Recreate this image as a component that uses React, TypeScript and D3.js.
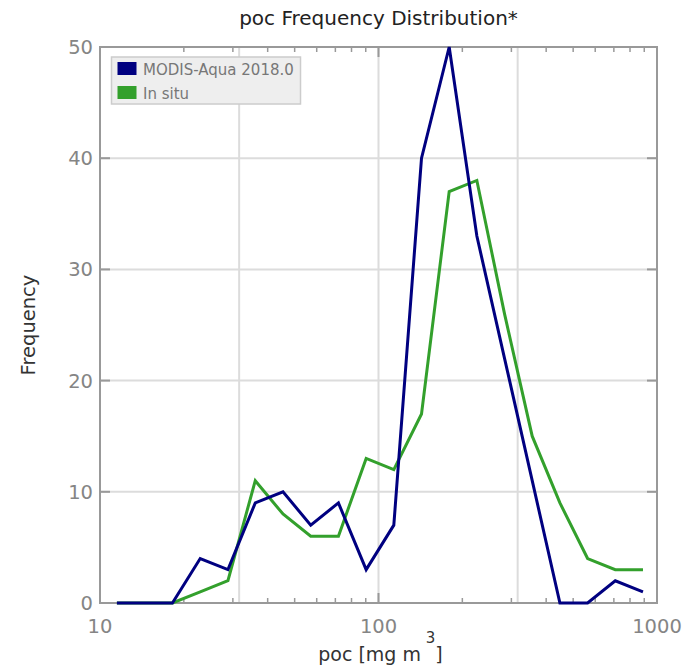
import React from "react";
import * as d3 from "d3";

const binCenters = [11.5, 14.5, 18.2, 22.9, 28.8, 36.1, 45.4, 57.1, 71.8, 90.3, 113.5, 142.7, 179.4, 225.5, 283.5, 356.4, 448.1, 563.4, 708.3, 890.5];
const modisValues = [0, 0, 0, 4, 3, 9, 10, 7, 9, 3, 7, 40, 50, 33, 22, 11, 0, 0, 2, 1];
const insituValues = [0, 0, 0, 1, 2, 11, 8, 6, 6, 13, 12, 17, 37, 38, 26, 15, 9, 4, 3, 3];
const seriesNames = ["MODIS-Aqua 2018.0", "In situ"];
const xMajorTicks = [10, 100, 1000];
const xMinorTicks = [20, 30, 40, 50, 60, 70, 80, 90, 200, 300, 400, 500, 600, 700, 800, 900];
const xGridValues = [31.6, 100, 316];
const yTicks = [0, 10, 20, 30, 40, 50];

const W = 686, H = 666;
const L = 100, R = 657, T = 47, B = 603;
const FONT = "DejaVu Sans, sans-serif";
const NAVY = "#000080";
const GREEN = "#33a02c";
const SPINE = "#999999";
const TICKLBL = "#858585";

export default function App() {
  const x = d3.scaleLog().domain([10, 1000]).range([L, R]);
  const y = d3.scaleLinear().domain([0, 50]).range([B, T]);
  const line = d3.line<number>().x((_, i) => x(binCenters[i])).y((d) => y(d));
  const colors = [NAVY, GREEN];

  return (
    <svg width={W} height={H} style={{ position: "absolute", left: 0, top: 0, background: "#fff" }} fontFamily={FONT}>
      {/* gridlines */}
      {yTicks.filter((t) => t > 0 && t < 50).map((t) => (
        <line key={"gy" + t} x1={L} x2={R} y1={y(t)} y2={y(t)} stroke="#dcdcdc" strokeWidth={2} />
      ))}
      {xGridValues.map((v) => (
        <line key={"gx" + v} x1={x(v)} x2={x(v)} y1={T} y2={B} stroke="#dcdcdc" strokeWidth={2} />
      ))}
      {/* ticks */}
      {yTicks.map((t) => (
        <g key={"ty" + t}>
          <line x1={L} x2={L + 10} y1={y(t)} y2={y(t)} stroke={SPINE} strokeWidth={2} />
          <line x1={R} x2={R - 10} y1={y(t)} y2={y(t)} stroke={SPINE} strokeWidth={2} />
          <text x={L - 7} y={y(t)} dy="0.36em" textAnchor="end" fontSize={19.5} fill={TICKLBL}>{t}</text>
        </g>
      ))}
      {xMajorTicks.map((t) => (
        <g key={"tx" + t}>
          <line x1={x(t)} x2={x(t)} y1={B} y2={B - 10} stroke={SPINE} strokeWidth={2} />
          <line x1={x(t)} x2={x(t)} y1={T} y2={T + 10} stroke={SPINE} strokeWidth={2} />
          <text x={x(t)} y={B + 30} textAnchor="middle" fontSize={19.5} fill={TICKLBL}>{t}</text>
        </g>
      ))}
      {xMinorTicks.map((t) => (
        <g key={"mx" + t}>
          <line x1={x(t)} x2={x(t)} y1={B} y2={B - 5} stroke={SPINE} strokeWidth={1.5} />
          <line x1={x(t)} x2={x(t)} y1={T} y2={T + 5} stroke={SPINE} strokeWidth={1.5} />
        </g>
      ))}
      {/* spines */}
      <rect x={L} y={T} width={R - L} height={B - T} fill="none" stroke={SPINE} strokeWidth={2} />
      {/* lines */}
      <path d={line(insituValues) || ""} fill="none" stroke={GREEN} strokeWidth={3} strokeLinejoin="miter" />
      <path d={line(modisValues) || ""} fill="none" stroke={NAVY} strokeWidth={3} strokeLinejoin="miter" />
      {/* legend */}
      <rect x={111.5} y={57} width={189} height={47} fill="#eeeeee" stroke="#cccccc" strokeWidth={1.5} />
      {seriesNames.map((n, i) => (
        <g key={n}>
          <rect x={117.5} y={62 + i * 24} width={19} height={13} fill={colors[i]} />
          <text x={143} y={75 + i * 23.5} fontSize={15} fill="#777777">{n}</text>
        </g>
      ))}
      {/* titles */}
      <text x={(L + R) / 2} y={25} textAnchor="middle" fontSize={20} fill="#222">poc Frequency Distribution*</text>
      <text transform={`translate(34.5,${(T + B) / 2}) rotate(-90)`} textAnchor="middle" fontSize={19.5} fill="#333">Frequency</text>
      <text x={(L + R) / 2 + 2} y={661} textAnchor="middle" fontSize={19} fill="#333">
        poc [mg m<tspan dy={-18} fontSize={15}> 3</tspan><tspan dy={18}>]</tspan>
      </text>
    </svg>
  );
}
